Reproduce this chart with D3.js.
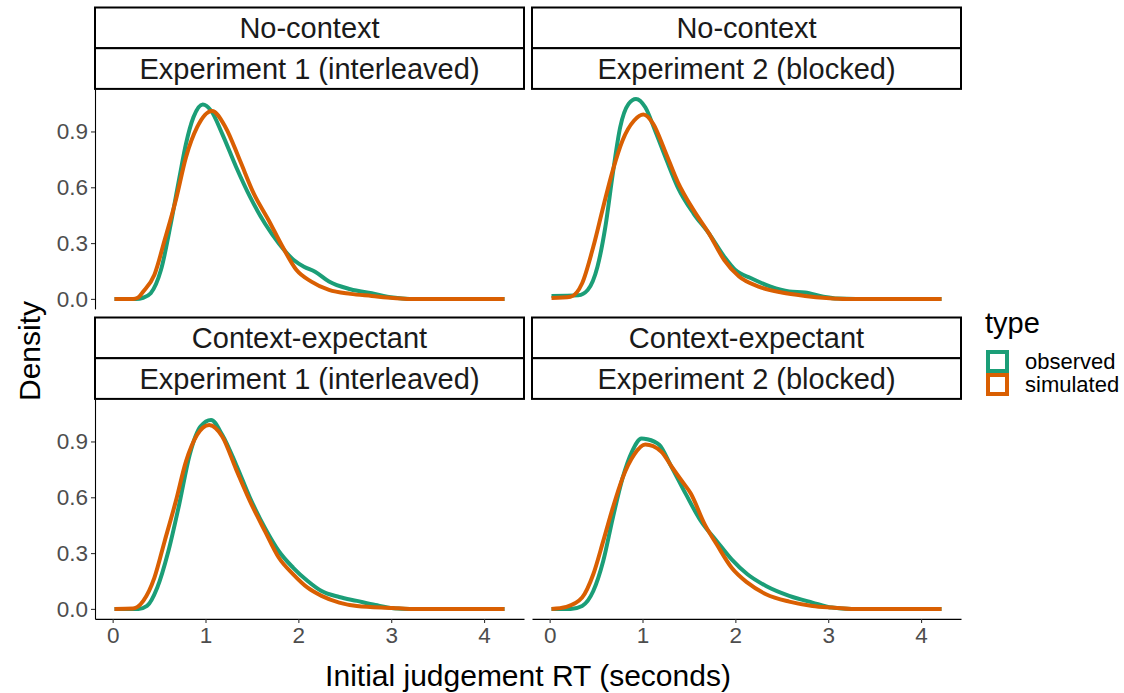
<!DOCTYPE html>
<html>
<head>
<meta charset="utf-8">
<script src="https://cdn.jsdelivr.net/npm/d3@7"></script>
<style>
  body { margin: 0; background: #fff; }
  svg { font-family: "Liberation Sans", Arial, sans-serif; }
</style>
</head>
<body>
<svg width="1124" height="693"></svg>
<script>
// Facet labels
const contexts = ["No-context", "Context-expectant"];
const experiments = ["Experiment 1 (interleaved)", "Experiment 2 (blocked)"];
const types = ["observed", "simulated"];
const typeColors = ["#1b9e77", "#d95f02"];
const xTicks = [0, 1, 2, 3, 4];
const yTicks = [0, 0.3, 0.6, 0.9];

// density curves: [RT seconds, density]
const obs_nc_e1 = [[0.02,0],[0.25,0],[0.33,0.006],[0.41,0.03],[0.52,0.155],[0.64,0.44],[0.72,0.655],[0.79,0.834],[0.87,0.976],[0.97,1.045],[1.06,1.012],[1.18,0.887],[1.33,0.709],[1.48,0.548],[1.64,0.405],[1.79,0.298],[1.95,0.209],[2.06,0.173],[2.18,0.146],[2.33,0.093],[2.56,0.052],[2.79,0.03],[3.02,0.007],[3.2,0],[4.22,0]];
const sim_nc_e1 = [[0.02,0],[0.22,0],[0.27,0.006],[0.33,0.04],[0.45,0.13],[0.56,0.316],[0.68,0.53],[0.79,0.762],[0.91,0.923],[1.07,1.01],[1.215,0.923],[1.37,0.745],[1.52,0.566],[1.68,0.423],[1.83,0.28],[1.98,0.155],[2.14,0.093],[2.33,0.048],[2.56,0.027],[2.79,0.016],[3.02,0.005],[3.2,0],[4.22,0]];
const obs_nc_e2 = [[0.02,0.016],[0.31,0.02],[0.41,0.048],[0.515,0.173],[0.6,0.387],[0.68,0.673],[0.76,0.923],[0.85,1.048],[0.93,1.075],[1.03,1.03],[1.135,0.905],[1.26,0.745],[1.38,0.6],[1.55,0.459],[1.715,0.352],[1.88,0.227],[2.0,0.155],[2.17,0.111],[2.38,0.066],[2.58,0.04],[2.75,0.034],[2.95,0.012],[3.1,0.002],[3.3,0],[4.22,0]];
const sim_nc_e2 = [[0.02,0.005],[0.226,0.012],[0.35,0.084],[0.47,0.28],[0.577,0.494],[0.68,0.691],[0.785,0.852],[0.91,0.959],[1.01,0.991],[1.115,0.941],[1.24,0.798],[1.38,0.628],[1.55,0.477],[1.715,0.352],[1.88,0.209],[2.04,0.12],[2.25,0.066],[2.5,0.034],[2.75,0.016],[2.98,0.005],[3.2,0],[4.22,0]];
const obs_ce_e1 = [[0.02,0],[0.28,0],[0.37,0.016],[0.48,0.114],[0.6,0.31],[0.716,0.56],[0.83,0.829],[0.946,0.98],[1.06,1.016],[1.18,0.936],[1.33,0.775],[1.48,0.596],[1.64,0.435],[1.79,0.31],[1.945,0.221],[2.1,0.15],[2.25,0.096],[2.44,0.064],[2.63,0.043],[2.83,0.021],[3.02,0.004],[3.2,0],[4.22,0]];
const sim_ce_e1 = [[0.02,0],[0.22,0.002],[0.33,0.043],[0.45,0.168],[0.56,0.364],[0.68,0.578],[0.79,0.793],[0.91,0.936],[1.04,0.989],[1.18,0.927],[1.33,0.75],[1.48,0.578],[1.64,0.418],[1.79,0.275],[1.945,0.186],[2.1,0.114],[2.25,0.07],[2.44,0.034],[2.63,0.016],[3.02,0.005],[3.2,0],[4.22,0]];
const obs_ce_e2 = [[0.02,0],[0.226,0],[0.35,0.016],[0.47,0.096],[0.577,0.257],[0.68,0.489],[0.785,0.703],[0.887,0.846],[0.99,0.916],[1.05,0.912],[1.18,0.882],[1.3,0.775],[1.47,0.614],[1.63,0.471],[1.8,0.364],[1.96,0.266],[2.13,0.186],[2.33,0.123],[2.58,0.07],[2.83,0.034],[3.04,0.007],[3.25,0],[4.22,0]];
const sim_ce_e2 = [[0.02,0],[0.18,0.011],[0.35,0.061],[0.47,0.186],[0.577,0.364],[0.68,0.543],[0.785,0.703],[0.91,0.829],[1.03,0.883],[1.2,0.846],[1.32,0.76],[1.42,0.69],[1.52,0.62],[1.67,0.454],[1.8,0.346],[1.96,0.221],[2.13,0.141],[2.33,0.079],[2.58,0.039],[2.83,0.016],[3.04,0.007],[3.25,0],[4.22,0]];

// panels in facet order (row, col)
const panels = [
  {row: 0, col: 0, ctx: 0, exp: 0, series: [obs_nc_e1, sim_nc_e1]},
  {row: 0, col: 1, ctx: 0, exp: 1, series: [obs_nc_e2, sim_nc_e2]},
  {row: 1, col: 0, ctx: 1, exp: 0, series: [obs_ce_e1, sim_ce_e1]},
  {row: 1, col: 1, ctx: 1, exp: 1, series: [obs_ce_e2, sim_ce_e2]}
];

// layout
const PANEL_W = 429, PANEL_H = 220, STRIP_H = 40.7;
const colX = [95, 532];
const rowY = [7.5, 317.5];   // top of the first strip
const LINE_W = 4;

const svg = d3.select("svg");

// shared scales (fixed facets), 5% expansion like ggplot
const xExt = [0.02, 4.22], yExt = [0, 1.075];
const xPad = (xExt[1] - xExt[0]) * 0.05, yPad = (yExt[1] - yExt[0]) * 0.05;
const x = d3.scaleLinear().domain([xExt[0] - xPad, xExt[1] + xPad]).range([0, PANEL_W]);
const y = d3.scaleLinear().domain([yExt[0] - yPad, yExt[1] + yPad]).range([PANEL_H, 0]);

const line = d3.line()
    .x(d => x(d[0]))
    .y(d => y(d[1]))
    .curve(d3.curveMonotoneX);

panels.forEach(p => {
  const gx = colX[p.col], gy = rowY[p.row];
  const g = svg.append("g").attr("transform", `translate(${gx},${gy})`);

  // two stacked strips
  [contexts[p.ctx], experiments[p.exp]].forEach((lab, i) => {
    g.append("rect")
        .attr("x", 0).attr("y", i * STRIP_H)
        .attr("width", PANEL_W).attr("height", STRIP_H)
        .attr("fill", "#fff").attr("stroke", "#000").attr("stroke-width", 2);
    g.append("text")
        .attr("x", PANEL_W / 2).attr("y", i * STRIP_H + STRIP_H / 2)
        .attr("dy", "0.36em")
        .attr("text-anchor", "middle")
        .attr("font-size", 29)
        .attr("fill", "#1a1a1a")
        .text(lab);
  });

  const plot = g.append("g").attr("transform", `translate(0,${2 * STRIP_H})`);

  // curves, observed first then simulated on top
  p.series.forEach((s, i) => {
    plot.append("path")
        .datum(s)
        .attr("d", line)
        .attr("fill", "none")
        .attr("stroke", typeColors[i])
        .attr("stroke-width", LINE_W)
        .attr("stroke-linejoin", "round");
  });

  // y axis on left column only
  if (p.col === 0) {
    const ya = plot.append("g").call(d3.axisLeft(y).tickValues(yTicks).tickFormat(d3.format(".1f"))
        .tickSizeInner(4).tickSizeOuter(0).tickPadding(3));
    ya.select(".domain").attr("stroke", "#000").attr("stroke-width", 1.1);
    ya.selectAll(".tick line").attr("stroke", "#333").attr("stroke-width", 1.1);
    ya.selectAll(".tick text").attr("font-size", 22.5).attr("fill", "#4d4d4d")
        .attr("font-family", "Liberation Sans, Arial, sans-serif");
  }
  // x axis on bottom row only
  if (p.row === 1) {
    const xa = plot.append("g").attr("transform", `translate(0,${PANEL_H})`)
        .call(d3.axisBottom(x).tickValues(xTicks).tickFormat(d3.format("d"))
        .tickSizeInner(4).tickSizeOuter(0).tickPadding(4));
    xa.select(".domain").attr("stroke", "#000").attr("stroke-width", 1.1);
    xa.selectAll(".tick line").attr("stroke", "#333").attr("stroke-width", 1.1);
    xa.selectAll(".tick text").attr("font-size", 22.5).attr("fill", "#4d4d4d")
        .attr("font-family", "Liberation Sans, Arial, sans-serif");
  }
});

// axis titles
svg.append("text")
    .attr("x", (colX[0] + colX[1] + PANEL_W) / 2).attr("y", 686)
    .attr("text-anchor", "middle")
    .attr("font-size", 30)
    .text("Initial judgement RT (seconds)");

svg.append("text")
    .attr("transform", "translate(40,351) rotate(-90)")
    .attr("text-anchor", "middle")
    .attr("font-size", 30)
    .text("Density");

// legend
const legend = svg.append("g").attr("transform", "translate(985,0)");
legend.append("text")
    .attr("x", 0).attr("y", 333)
    .attr("font-size", 29)
    .text("type");

types.forEach((t, i) => {
  const cy = 361.5 + i * 23;
  legend.append("rect")
      .attr("x", 3).attr("y", cy - 9.5)
      .attr("width", 19).attr("height", 19)
      .attr("fill", "none")
      .attr("stroke", typeColors[i])
      .attr("stroke-width", LINE_W);
  legend.append("text")
      .attr("x", 40).attr("y", cy).attr("dy", "0.36em")
      .attr("font-size", 22)
      .text(t);
});
</script>
</body>
</html>
